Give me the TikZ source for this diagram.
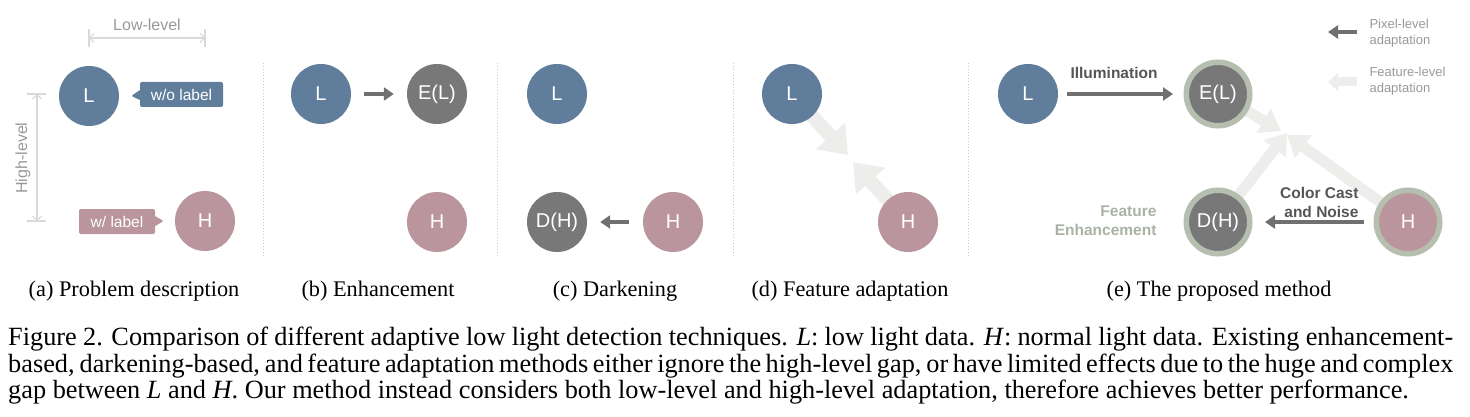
\documentclass[tikz,border=0pt]{standalone}
\usepackage{fontspec}
\setmainfont{Liberation Serif}
\setsansfont{Liberation Sans}
\usetikzlibrary{arrows.meta,shapes.callouts,backgrounds}

\definecolor{lowblue}{HTML}{607E9C}
\definecolor{highpink}{HTML}{BA959D}
\definecolor{darkgrey}{HTML}{787878}
\definecolor{ringgreen}{HTML}{B5BEAF}
\definecolor{arrowgrey}{HTML}{707070}
\definecolor{featgrey}{HTML}{EDEDEB}
\definecolor{dimgrey}{HTML}{D9D9D9}
\definecolor{labgrey}{HTML}{999999}
\definecolor{boldgrey}{HTML}{555555}
\definecolor{enhgreen}{HTML}{A9B3A4}

\tikzset{
    datac/.style={circle, minimum size=60pt, inner sep=0pt, text=white,
        font=\sffamily\fontsize{20}{20}\selectfont},
    lowc/.style={datac, fill=lowblue},
    highc/.style={datac, fill=highpink},
    darkc/.style={datac, fill=darkgrey},
    ringc/.style={draw=ringgreen, line width=5.5pt, minimum size=63.5pt},
    pixarrow/.style={draw=arrowgrey, line width=4pt,
        -{Triangle[length=10pt,width=13pt]}},
    featarrow/.style={draw=featgrey, line width=14pt,
        -{Triangle[length=26pt,width=38pt]}},
    featsmall/.style={draw=featgrey, line width=11pt,
        -{Triangle[length=20pt,width=27pt]}},
    tagbox/.style={rectangle callout, rounded corners=2pt, text=white,
        minimum height=25pt, inner sep=0pt, callout pointer width=10pt,
        font=\sffamily\fontsize{15.5}{15.5}\selectfont},
    dimline/.style={draw=dimgrey, line width=1.2pt,
        {Straight Barb[length=4pt,width=9pt]}-{Straight Barb[length=4pt,width=9pt]}},
    dimtick/.style={draw=dimgrey, line width=1.2pt},
    dimtext/.style={text=labgrey, font=\sffamily\fontsize{16}{16}\selectfont},
    boldlab/.style={text=boldgrey, font=\sffamily\bfseries\fontsize{15.5}{19}\selectfont},
    legtext/.style={text=labgrey, anchor=west, align=left,
        font=\sffamily\fontsize{13}{16}\selectfont},
    sep/.style={draw=black!22, line width=0.8pt, dash pattern=on 1pt off 2pt},
    subcap/.style={font=\fontsize{22.3}{26}\selectfont},
    caption/.style={anchor=north west, align=left, inner sep=0pt,
        font=\fontsize{26.3}{26.6}\selectfont}
}

\begin{document}
\begin{tikzpicture}[x=1pt,y=-1pt]
\useasboundingbox (0,0) rectangle (1470,417);

% Dotted separators between the panels
\foreach \x in {263,497,733,968} {
    \draw[sep] (\x,63) -- (\x,258);
}

% (a) Problem description
\node[lowc] (La) at (89,96) {L};
\node[highc] (Ha) at (205,221) {H};
\coordinate (wolp) at ([xshift=12pt]La.east);
\coordinate (wlp) at ([xshift=-11pt]Ha.west);
\node[tagbox, fill=lowblue, minimum width=83pt, callout absolute pointer={(wolp)}] (wol) at (181.5,94.5) {w/o label};
\node[tagbox, fill=highpink, minimum width=76pt, callout absolute pointer={(wlp)}] (wl) at (117,221.5) {w/ label};

% low-level and high-level gaps
\coordinate (lowl) at (89,38);
\coordinate (lowr) at (205,38);
\coordinate (hight) at (37,94);
\coordinate (highb) at (37,221);
\draw[dimline] (lowl) -- (lowr);
\draw[dimline] (hight) -- (highb);
\foreach \c in {lowl,lowr} {
    \draw[dimtick] ([yshift=9pt]\c) -- ([yshift=-9pt]\c);
}
\foreach \c in {hight,highb} {
    \draw[dimtick] ([xshift=-10pt]\c) -- ([xshift=9pt]\c);
}
\node[dimtext] (lowtxt) at (147,25) {Low-level};
\node[dimtext, rotate=90] (hightxt) at (23,158) {High-level};

% (b) Enhancement
\node[lowc] (Lb) at (321,94) {L};
\node[darkc] (ELb) at (437,94) {E(L)};
\node[highc] (Hb) at (437,222) {H};
\draw[pixarrow, shorten <=13pt, shorten >=13pt] (Lb) -- (ELb);

% (c) Darkening
\node[lowc] (Lc) at (557,94) {L};
\node[darkc] (DHc) at (557,222) {D(H)};
\node[highc] (Hc) at (673,222) {H};
\draw[pixarrow, shorten <=14pt, shorten >=13pt] (Hc) -- (DHc);

% (d) Feature adaptation
\node[lowc] (Ld) at (792,94) {L};
\node[highc] (Hd) at (908,222) {H};
\coordinate (meetdl) at (848,155);
\coordinate (meetdh) at (853,162);
\begin{scope}[on background layer]
    \draw[featarrow] (Ld.center) -- (meetdl);
    \draw[featarrow] (Hd.center) -- (meetdh);
\end{scope}

% (e) The proposed method
\node[lowc] (Le) at (1028,94) {L};
\node[darkc, ringc] (ELe) at (1218,94) {E(L)};
\node[darkc, ringc] (DHe) at (1218,222) {D(H)};
\node[highc, ringc] (He) at (1408,222) {H};
\coordinate (meetel) at (1281,131);
\coordinate (meetdh) at (1287,133);
\coordinate (meeth) at (1287,135);
\begin{scope}[on background layer]
    \draw[featsmall] (ELe.center) -- (meetel);
    \draw[featsmall] (DHe.center) -- (meetdh);
    \draw[featsmall] (He.center) -- (meeth);
\end{scope}
\draw[pixarrow, shorten <=9pt, shorten >=10.5pt] (Le) -- (ELe);
\draw[pixarrow, shorten <=9.5pt, shorten >=12.5pt] (He) -- (DHe);
\node[boldlab] (illum) at (1114,73) {Illumination};
\node[boldlab, align=right, anchor=east] (ccn) at (1362,202) {Color Cast\\and Noise};
\node[boldlab, text=enhgreen, align=right, anchor=east] (fenh) at (1160,221) {Feature\\Enhancement};

% legend
\coordinate (pxr) at (1357,32);
\coordinate (pxl) at (1328,32);
\coordinate (ftr) at (1357,82);
\coordinate (ftl) at (1328,82);
\draw[pixarrow] (pxr) -- (pxl);
\draw[draw=featgrey, line width=9pt, -{Triangle[length=10pt,width=18pt]}] (ftr) -- (ftl);
\node[legtext] (pxtxt) at (1366,33) {Pixel-level\\adaptation};
\node[legtext] (fttxt) at (1366,81) {Feature-level\\adaptation};

% sub-captions
\foreach \x/\t [count=\i] in {134/{(a) Problem description}, 378/{(b) Enhancement},
    615/{(c) Darkening}, 850/{(d) Feature adaptation}, 1219/{(e) The proposed method}} {
    \node[subcap] (sub\i) at (\x,291) {\t};
}

% figure caption
\node[caption] (cap) at (8,327) {\hbox to 1445pt{Figure 2. Comparison of different adaptive low light detection techniques. \textit{L}: low light data. \textit{H}: normal light data. Existing enhancement-}\\
\hbox to 1445pt{based, darkening-based, and feature adaptation methods either ignore the high-level gap, or have limited effects due to the huge and complex}\\
gap between \textit{L} and \textit{H}. Our method instead considers both low-level and high-level adaptation, therefore achieves better performance.};

\end{tikzpicture}
\end{document}
